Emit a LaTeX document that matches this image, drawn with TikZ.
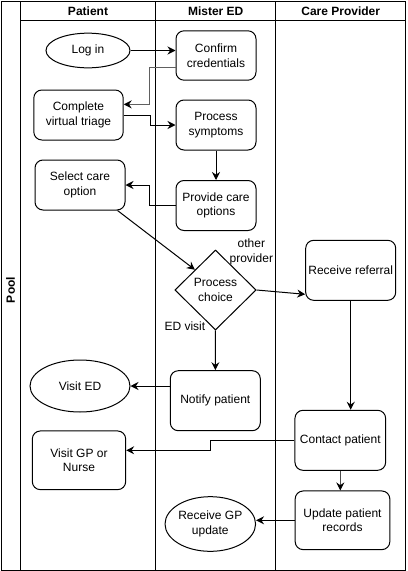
\documentclass[tikz,border=0pt]{standalone}
\usepackage{fontspec}
\setmainfont{Liberation Sans}
\usetikzlibrary{shapes.geometric,arrows.meta}

\begin{document}
\begin{tikzpicture}[x=0.75pt, y=-0.75pt, font=\fontsize{9}{11}\selectfont, line width=0.75pt,
      box/.style={draw=black, rounded corners=6pt, align=center, inner sep=1pt},
      oval/.style={draw=black, ellipse, align=center, inner sep=0pt},
      decide/.style={draw=black, diamond, align=center, inner sep=0pt},
      head/.style={font=\bfseries\fontsize{9}{11}\selectfont},
      flow/.style={-{Stealth[length=6pt, width=6pt, inset=2pt, black]}},
      lbl/.style={inner sep=0pt, align=center}]
      \useasboundingbox (0,0) rectangle (407,571);

      % pool and lanes
      \draw (1,1) rectangle (405.5,570);
      \draw (20,1) -- (20,570);
      \draw (20,20) -- (405.5,20);
      \draw (155.7,1) -- (155.7,570);
      \draw (275.7,1) -- (275.7,570);
      \node[head, name=pool, rotate=90] at (10.5,290) {Pool};
      \node[head, name=hpatient] at (88,11) {Patient};
      \node[head, name=hmister] at (215.7,11) {Mister ED};
      \node[head, name=hcare] at (340.7,11) {Care Provider};

      % steps
      \node[oval, name=login, minimum width=63pt, minimum height=26pt] at (88,50.5) {Log in};
      \node[box, name=confirm, minimum width=60pt, minimum height=37pt] at (216,55.5) {Confirm\\credentials};
      \node[box, name=triage, minimum width=67pt, minimum height=37.5pt] at (78.5,115) {Complete\\virtual triage};
      \node[box, name=symptoms, minimum width=60pt, minimum height=37.5pt] at (216,125) {Process\\symptoms};
      \node[box, name=select, minimum width=67.5pt, minimum height=37.5pt] at (80,185) {Select care\\option};
      \node[box, name=provide, minimum width=60pt, minimum height=37.5pt] at (216,205.5) {Provide care\\options};
      \node[decide, name=choice, minimum width=61pt, minimum height=60pt] at (215.5,290) {Process\\choice};
      \node[box, name=referral, minimum width=67.5pt, minimum height=45pt] at (350.7,270.3) {Receive referral};
      \node[oval, name=visited, minimum width=75pt, minimum height=39pt] at (80,386) {Visit ED};
      \node[box, name=notify, minimum width=67.5pt, minimum height=45pt] at (215.3,400.7) {Notify patient};
      \node[box, name=contact, minimum width=68pt, minimum height=45pt] at (340.3,440.3) {Contact patient};
      \node[box, name=visitgp, minimum width=70pt, minimum height=44pt] at (79,460.3) {Visit GP or\\Nurse};
      \node[box, name=update, minimum width=71pt, minimum height=44pt] at (342.5,520.3) {Update patient\\records};
      \node[oval, name=gpupdate, minimum width=67pt, minimum height=41pt] at (210.3,524) {Receive GP\\update};

      % connectors
      \path[flow]
         (login.east) edge (login.east -| confirm.west)
         (symptoms) edge (provide)
         ([xshift=-6pt]select.south east) edge (choice.north west)
         (choice.east) edge node[lbl, at start, xshift=-4pt, yshift=28.5pt] {other\\provider} ([yshift=-18pt]referral.west)
         (choice) edge node[lbl, at start, anchor=east, xshift=-7.3pt, yshift=3.2pt] {ED visit} (notify)
         (notify.west |- visited.east) edge (visited.east)
         (referral.south) edge (referral.south |- contact.north)
         (update.west) edge (update.west -| gpupdate.east);
      \draw[flow, draw=gray!75!black, line width=1.1pt] ([yshift=-9pt]confirm.west) -- ++(-26,0) |- ([yshift=8pt]triage.east);
      \draw[flow] (triage.east) -- ++(27,0) |- (symptoms.west);
      \draw[flow] (provide.west) -- ++(-26,0) |- (select.east);
      \draw[flow] (contact.west) -- ++(-84.3,0) |- ([yshift=7.5pt]visitgp.east);
      \draw[flow, draw=gray!60!black] (contact.south) -- (contact.south |- update.north);
   \end{tikzpicture}
\end{document}
